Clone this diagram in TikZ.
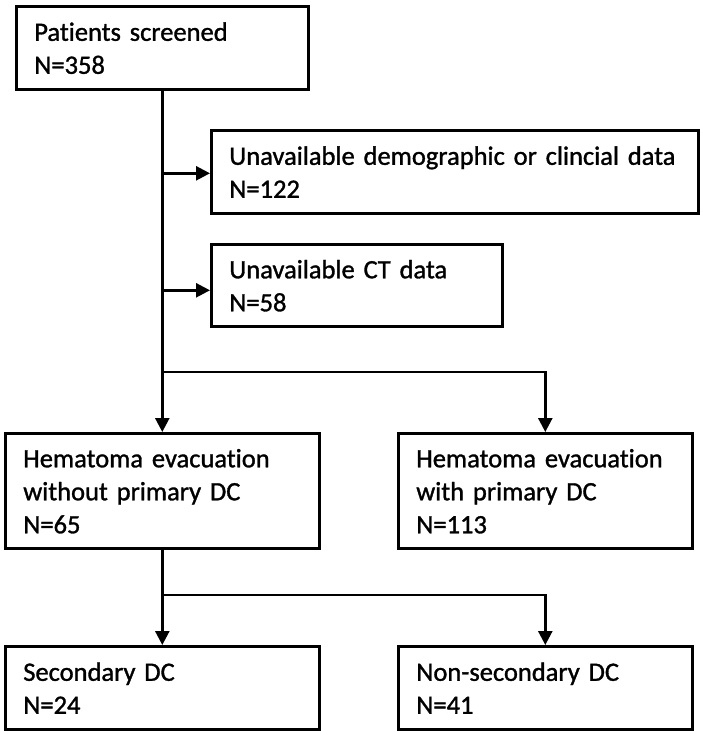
\documentclass[tikz,border=0pt]{standalone}
\usepackage{fontspec}
\setmainfont[Ligatures=NoCommon,RawFeature={-liga;-clig},FakeBold=1.2]{Carlito}
\usetikzlibrary{arrows.meta}
\newcommand{\ls}{\rule[-7pt]{0pt}{33pt}}
\begin{document}
\begin{tikzpicture}[x=1pt,y=-1pt,
  box/.style={draw, line width=2.6pt, anchor=north west, align=left,
    inner xsep=18pt, inner ysep=0pt,
    font=\fontsize{26.5}{33}\selectfont},
  conn/.style={line width=2.6pt},
  arr/.style={conn, -{Triangle[length=14pt,width=14pt]}}]
\useasboundingbox (0,0) rectangle (708,731);
\node[box, text width=256pt, minimum height=83pt] (b1) at (15,5)
  {\ls Patients screened\\\ls N=358};
\node[box, text width=451pt, minimum height=83pt] (b2) at (210,129)
  {\ls Unavailable demographic or clincial data\\\ls N=122};
\node[box, text width=255pt, minimum height=82pt] (b3) at (210,243)
  {\ls Unavailable CT data\\\ls N=58};
\node[box, text width=278pt, minimum height=115pt] (b4) at (4,432)
  {\ls Hematoma evacuation\\\ls without primary DC\\\ls N=65};
\node[box, text width=258pt, minimum height=115pt] (b5) at (397,432)
  {\ls Hematoma evacuation\\\ls with primary DC\\\ls N=113};
\node[box, text width=278pt, minimum height=83pt] (b6) at (4,645)
  {\ls Secondary DC\\\ls N=24};
\node[box, text width=258pt, minimum height=83pt] (b7) at (397,645)
  {\ls Non-secondary DC\\\ls N=41};
% main trunk
\draw[arr] (b1.south) -- (b4.north);
\coordinate (a2) at ([yshift=-1.5pt]b2.west);
\coordinate (a3) at ([yshift=-5pt]b3.west);
\draw[arr] (b1.south |- a2) -- (a2);
\draw[arr] (b1.south |- a3) -- (a3);
\coordinate (s1) at (161,372);
\draw[arr] (s1) -| (b5.north);
% second split
\draw[arr] (b4.south) -- (b6.north);
\coordinate (s2) at (161,595);
\draw[arr] (s2) -| (b7.north);
\end{tikzpicture}
\end{document}
